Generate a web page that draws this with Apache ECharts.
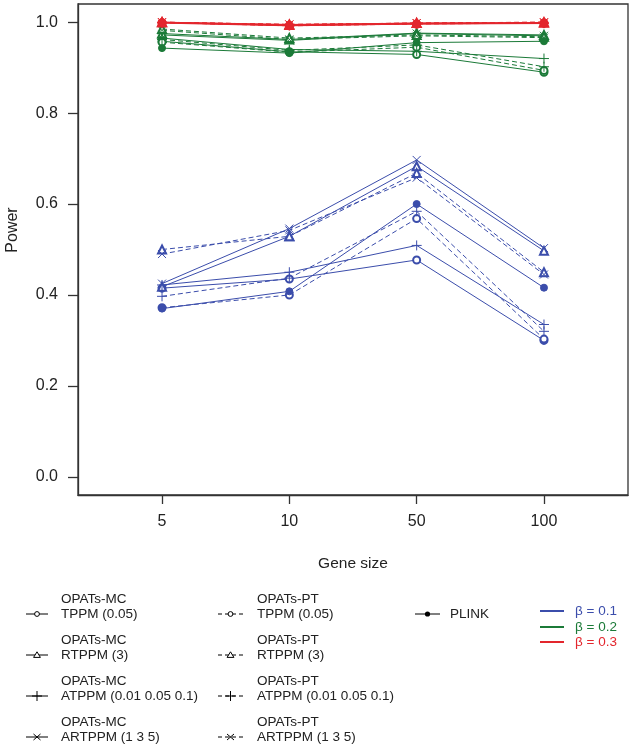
<!DOCTYPE html>
<html>
<head>
<meta charset="utf-8">
<script src="https://cdn.jsdelivr.net/npm/echarts@6/dist/echarts.min.js"></script>
<style>html,body{margin:0;padding:0;background:#fff;}#c{width:633px;height:746px;}</style>
</head>
<body>
<div id="c"></div>
<script>
// ---- data ----
const xPositions = [1, 2, 3, 4];
const xTickLabels = ['5', '10', '50', '100'];
const yTicks = [0, 0.2, 0.4, 0.6, 0.8, 1.0];
const methodKeys = ['mcTPPM','mcRTPPM','mcATPPM','mcARTPPM','ptTPPM','ptRTPPM','ptATPPM','ptARTPPM','plink'];
const methodLine1 = ['OPATs-MC','OPATs-MC','OPATs-MC','OPATs-MC','OPATs-PT','OPATs-PT','OPATs-PT','OPATs-PT',''];
const methodLine2 = ['TPPM (0.05)','RTPPM (3)','ATPPM (0.01 0.05 0.1)','ARTPPM (1 3 5)','TPPM (0.05)','RTPPM (3)','ATPPM (0.01 0.05 0.1)','ARTPPM (1 3 5)','PLINK'];
const betaLabels = ['β = 0.1', 'β = 0.2', 'β = 0.3'];

// beta = 0.1
const b1_mcTPPM   = [0.415, 0.435, 0.477, 0.300];
const b1_mcRTPPM  = [0.418, 0.529, 0.683, 0.497];
const b1_mcATPPM  = [0.422, 0.450, 0.509, 0.335];
const b1_mcARTPPM = [0.425, 0.546, 0.697, 0.503];
const b1_ptTPPM   = [0.372, 0.400, 0.568, 0.303];
const b1_ptRTPPM  = [0.500, 0.529, 0.668, 0.450];
const b1_ptATPPM  = [0.397, 0.437, 0.584, 0.320];
const b1_ptARTPPM = [0.490, 0.542, 0.658, 0.445];
const b1_plink    = [0.370, 0.408, 0.600, 0.416];
// beta = 0.2
const b2_mcTPPM   = [0.958, 0.935, 0.929, 0.890];
const b2_mcRTPPM  = [0.975, 0.962, 0.976, 0.972];
const b2_mcATPPM  = [0.965, 0.940, 0.936, 0.920];
const b2_mcARTPPM = [0.972, 0.960, 0.975, 0.970];
const b2_ptTPPM   = [0.956, 0.934, 0.945, 0.894];
const b2_ptRTPPM  = [0.985, 0.965, 0.972, 0.968];
const b2_ptATPPM  = [0.962, 0.938, 0.950, 0.902];
const b2_ptARTPPM = [0.982, 0.962, 0.970, 0.966];
const b2_plink    = [0.943, 0.932, 0.955, 0.958];
// beta = 0.3
const b3_mcTPPM   = [0.999, 0.993, 0.996, 0.998];
const b3_mcRTPPM  = [1.000, 0.994, 0.998, 0.999];
const b3_mcATPPM  = [0.999, 0.993, 0.997, 0.998];
const b3_mcARTPPM = [1.000, 0.995, 0.998, 0.999];
const b3_ptTPPM   = [0.999, 0.992, 0.996, 0.998];
const b3_ptRTPPM  = [1.000, 0.995, 0.998, 1.000];
const b3_ptATPPM  = [0.999, 0.993, 0.997, 0.998];
const b3_ptARTPPM = [1.000, 0.995, 0.998, 1.000];
const b3_plink    = [0.998, 0.992, 0.996, 0.997];

const beta1 = [b1_mcTPPM,b1_mcRTPPM,b1_mcATPPM,b1_mcARTPPM,b1_ptTPPM,b1_ptRTPPM,b1_ptATPPM,b1_ptARTPPM,b1_plink];
const beta2 = [b2_mcTPPM,b2_mcRTPPM,b2_mcATPPM,b2_mcARTPPM,b2_ptTPPM,b2_ptRTPPM,b2_ptATPPM,b2_ptARTPPM,b2_plink];
const beta3 = [b3_mcTPPM,b3_mcRTPPM,b3_mcATPPM,b3_mcARTPPM,b3_ptTPPM,b3_ptRTPPM,b3_ptATPPM,b3_ptARTPPM,b3_plink];

// ---- styles ----
const betaColors = ['#3b4dab', '#1b7a38', '#e3262d'];
const FONT = '"Liberation Sans", Arial, sans-serif';
const TXT = '#222';
const symFor = [
  {symbol:'emptyCircle', size:7},
  {symbol:'emptyTriangle', size:8},
  {symbol:'path://M5,0L5,10M0,5L10,5', size:10},
  {symbol:'path://M0,0L10,10M10,0L0,10', size:8},
  {symbol:'emptyCircle', size:7},
  {symbol:'emptyTriangle', size:8},
  {symbol:'path://M5,0L5,10M0,5L10,5', size:10},
  {symbol:'path://M0,0L10,10M10,0L0,10', size:8},
  {symbol:'circle', size:7}
];
const dashedFor = [false,false,false,false,true,true,true,true,false];

const series = [];
[beta1, beta2, beta3].forEach((group, b) => {
  const col = betaColors[b];
  group.forEach((vals, m) => {
    series.push({
      type: 'line',
      name: methodKeys[m] + '_' + b,
      data: xPositions.map((x, i) => [x, vals[i]]),
      symbol: symFor[m].symbol,
      symbolSize: symFor[m].size,
      showSymbol: true,
      animation: false,
      z: 2 + b,
      lineStyle: {color: col, width: 1, type: dashedFor[m] ? [5, 3] : 'solid'},
      itemStyle: {color: col, borderColor: col, borderWidth: 1},
      emphasis: {disabled: true}
    });
  });
});

// ---- legend as graphic ----
const graphics = [];
function addSym(m, cx, cy) {
  const st = {stroke: '#000', lineWidth: 1, fill: '#fff'};
  const k = m % 4;
  if (m === 8) {
    graphics.push({type:'circle', shape:{cx, cy, r:2.6}, style:{fill:'#000'}});
  } else if (k === 0) {
    graphics.push({type:'circle', shape:{cx, cy, r:2.4}, style:st});
  } else if (k === 1) {
    graphics.push({type:'polygon', shape:{points:[[cx, cy-3.2],[cx-3.4, cy+2.4],[cx+3.4, cy+2.4]]}, style:st});
  } else if (k === 2) {
    graphics.push({type:'line', shape:{x1:cx-5, y1:cy, x2:cx+5, y2:cy}, style:{stroke:'#000', lineWidth:1}});
    graphics.push({type:'line', shape:{x1:cx, y1:cy-5, x2:cx, y2:cy+5}, style:{stroke:'#000', lineWidth:1}});
  } else {
    graphics.push({type:'line', shape:{x1:cx-3.5, y1:cy-3, x2:cx+3.5, y2:cy+3}, style:{stroke:'#000', lineWidth:1}});
    graphics.push({type:'line', shape:{x1:cx-3.5, y1:cy+3, x2:cx+3.5, y2:cy-3}, style:{stroke:'#000', lineWidth:1}});
  }
}
const colSample = [[26, 48], [218, 243], [415, 440]];
const colText = [61, 257, 450];
const rowY = [614, 655, 696, 737];
methodKeys.forEach((k, m) => {
  const c = m === 8 ? 2 : (m < 4 ? 0 : 1);
  const r = m === 8 ? 0 : m % 4;
  const y = rowY[r];
  const [x0, x1] = colSample[c];
  graphics.push({type:'line', shape:{x1:x0, y1:y, x2:x1, y2:y},
    style:{stroke:'#000', lineWidth:1, lineDash: dashedFor[m] ? [4, 3] : null}});
  addSym(m, (x0 + x1) / 2, y);
  graphics.push({type:'text', x: colText[c], y: y, style:{text: methodLine2[m], font: '13.5px ' + FONT, fill: TXT, textVerticalAlign:'middle'}});
  if (methodLine1[m]) {
    graphics.push({type:'text', x: colText[c], y: y - 15, style:{text: methodLine1[m], font: '13.5px ' + FONT, fill: TXT, textVerticalAlign:'middle'}});
  }
});
const betaY = [611, 627, 642];
betaLabels.forEach((t, b) => {
  graphics.push({type:'line', shape:{x1:540, y1:betaY[b], x2:564, y2:betaY[b]}, style:{stroke: betaColors[b], lineWidth:2}});
  graphics.push({type:'text', x:575, y:betaY[b], style:{text:t, font:'13.5px ' + FONT, fill: betaColors[b], textVerticalAlign:'middle'}});
});
graphics.push({type:'text', x:13, y:230, rotation: Math.PI/2,
  style:{text:'Power', font:'16px ' + FONT, fill: TXT, textAlign:'center', textVerticalAlign:'middle'}});

const chart = echarts.init(document.getElementById('c'), null, {renderer: 'canvas'});
chart.setOption({
  backgroundColor: '#fff',
  animation: false,
  grid: {left: 78, right: 5, top: 4, bottom: 251, show: true, borderColor: '#333', borderWidth: 1.3, backgroundColor: 'transparent', containLabel: false},
  xAxis: {
    type: 'value', min: 0.34, max: 4.66,
    axisLine: {show: true, onZero: false, lineStyle: {color: '#333', width: 1.3}},
    axisTick: {show: true, customValues: xPositions, length: 9, lineStyle: {color: '#333', width: 1.3}},
    axisLabel: {customValues: xPositions, formatter: v => xTickLabels[xPositions.indexOf(v)], fontSize: 16, fontFamily: FONT, color: TXT, margin: 19},
    splitLine: {show: false},
    name: 'Gene size', nameLocation: 'middle', nameGap: 61,
    nameTextStyle: {fontSize: 15.5, fontFamily: FONT, color: TXT}
  },
  yAxis: {
    type: 'value', min: -0.04, max: 1.04,
    axisLine: {show: true, onZero: false, lineStyle: {color: '#333', width: 1.3}},
    axisTick: {show: true, customValues: yTicks, length: 10, lineStyle: {color: '#333', width: 1.3}},
    axisLabel: {customValues: yTicks, formatter: v => v.toFixed(1), fontSize: 16, fontFamily: FONT, color: TXT, margin: 20},
    splitLine: {show: false}
  },
  graphic: graphics,
  series: series
});
</script>
</body>
</html>
